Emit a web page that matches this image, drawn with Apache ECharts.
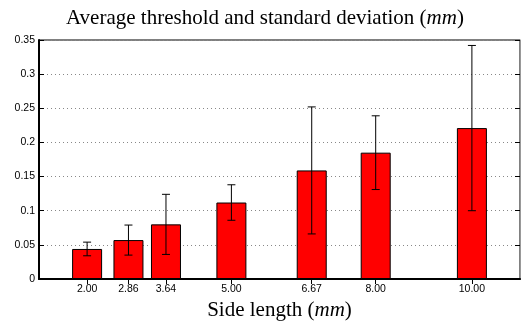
<!DOCTYPE html>
<html>
<head>
<meta charset="utf-8">
<script src="https://cdn.jsdelivr.net/npm/echarts@6/dist/echarts.min.js"></script>
<style>
  html, body { margin: 0; padding: 0; background: #fff; }
  #chart { width: 521px; height: 322px; }
</style>
</head>
<body>
<div id="chart"></div>
<script>
// side lengths (mm), mean threshold and standard deviation
var sideLength = [2.00, 2.86, 3.64, 5.00, 6.67, 8.00, 10.00];
var meanThreshold = [0.044, 0.057, 0.080, 0.112, 0.159, 0.185, 0.221];
var stdDev = [0.010, 0.022, 0.044, 0.026, 0.093, 0.054, 0.121];
var yTicks = [0, 0.05, 0.1, 0.15, 0.2, 0.25, 0.3, 0.35];

var myChart = echarts.init(document.getElementById('chart'));

var barData = sideLength.map(function (x, i) { return [x, meanThreshold[i]]; });
var errData = sideLength.map(function (x, i) {
  return [x, meanThreshold[i] - stdDev[i], meanThreshold[i] + stdDev[i]];
});

var labelFont = 'Liberation Sans, Arial, sans-serif';
var serifFont = 'Liberation Serif, Times New Roman, serif';

var option = {
  animation: false,
  title: {
    text: 'Average threshold and standard deviation ({i|mm})',
    left: 61,
    top: 3,
    textStyle: {
      fontFamily: serifFont,
      fontSize: 21,
      fontWeight: 'normal',
      color: '#000',
      rich: {
        i: { fontFamily: serifFont, fontSize: 21, fontStyle: 'italic', color: '#000' }
      }
    }
  },
  grid: {
    left: 39,
    right: 1,
    top: 40,
    bottom: 43,
    outerBoundsMode: 'none',
    containLabel: false,
    show: true,
    borderColor: '#000',
    borderWidth: 1
  },
  xAxis: [
    {
      type: 'value',
      min: 1,
      max: 11,
      name: 'Side length ({i|mm})',
      nameLocation: 'middle',
      nameGap: 15,
      nameTextStyle: {
        fontFamily: serifFont,
        fontSize: 21,
        color: '#000',
        rich: {
          i: { fontFamily: serifFont, fontSize: 21, fontStyle: 'italic', color: '#000' }
        }
      },
      splitLine: { show: false },
      axisLine: { show: true, lineStyle: { color: '#000', width: 2 } },
      axisTick: {
        show: true,
        inside: true,
        length: 5,
        customValues: sideLength,
        lineStyle: { color: '#000' }
      },
      axisLabel: {
        customValues: sideLength,
        formatter: function (v) { return v.toFixed(2); },
        fontFamily: labelFont,
        fontSize: 10.5,
        color: '#000',
        margin: 5
      }
    },
    {
      type: 'value',
      position: 'top',
      min: 1,
      max: 11,
      splitLine: { show: false },
      axisLine: { show: true, lineStyle: { color: '#000', width: 1 } },
      axisTick: {
        show: true,
        inside: true,
        length: 5,
        customValues: sideLength,
        lineStyle: { color: '#000' }
      },
      axisLabel: { show: false }
    }
  ],
  yAxis: [
    {
      type: 'value',
      min: 0,
      max: 0.35,
      interval: 0.05,
      axisLine: { show: true, lineStyle: { color: '#000', width: 2 } },
      axisTick: { show: true, inside: true, length: 5, lineStyle: { color: '#000' } },
      splitLine: {
        show: true,
        lineStyle: { color: '#888', type: [1, 3], width: 1 }
      },
      axisLabel: {
        fontFamily: labelFont,
        fontSize: 10.5,
        color: '#000',
        margin: 4,
        formatter: function (v) {
          var s = yTicks.find(function (t) { return Math.abs(t - v) < 1e-9; });
          return String(s !== undefined ? s : v);
        }
      }
    },
    {
      type: 'value',
      position: 'right',
      min: 0,
      max: 0.35,
      interval: 0.05,
      axisLine: { show: true, lineStyle: { color: '#999', width: 1 } },
      axisTick: { show: true, inside: true, length: 5, lineStyle: { color: '#000' } },
      splitLine: { show: false },
      axisLabel: { show: false }
    }
  ],
  series: [
    {
      type: 'bar',
      xAxisIndex: 0,
      yAxisIndex: 0,
      barWidth: 30,
      data: barData,
      itemStyle: { color: '#ff0000', borderColor: '#000', borderWidth: 1 },
      z: 2
    },
    {
      type: 'custom',
      xAxisIndex: 0,
      yAxisIndex: 0,
      data: errData,
      z: 3,
      renderItem: function (params, api) {
        var x = api.value(0);
        var lo = api.coord([x, api.value(1)]);
        var hi = api.coord([x, api.value(2)]);
        var cap = 4;
        var style = { stroke: '#000', lineWidth: 1 };
        return {
          type: 'group',
          children: [
            { type: 'line', shape: { x1: lo[0], y1: lo[1], x2: hi[0], y2: hi[1] }, style: style },
            { type: 'line', shape: { x1: hi[0] - cap, y1: hi[1], x2: hi[0] + cap, y2: hi[1] }, style: style },
            { type: 'line', shape: { x1: lo[0] - cap, y1: lo[1], x2: lo[0] + cap, y2: lo[1] }, style: style }
          ]
        };
      }
    }
  ]
};

option && myChart.setOption(option);
</script>
</body>
</html>
